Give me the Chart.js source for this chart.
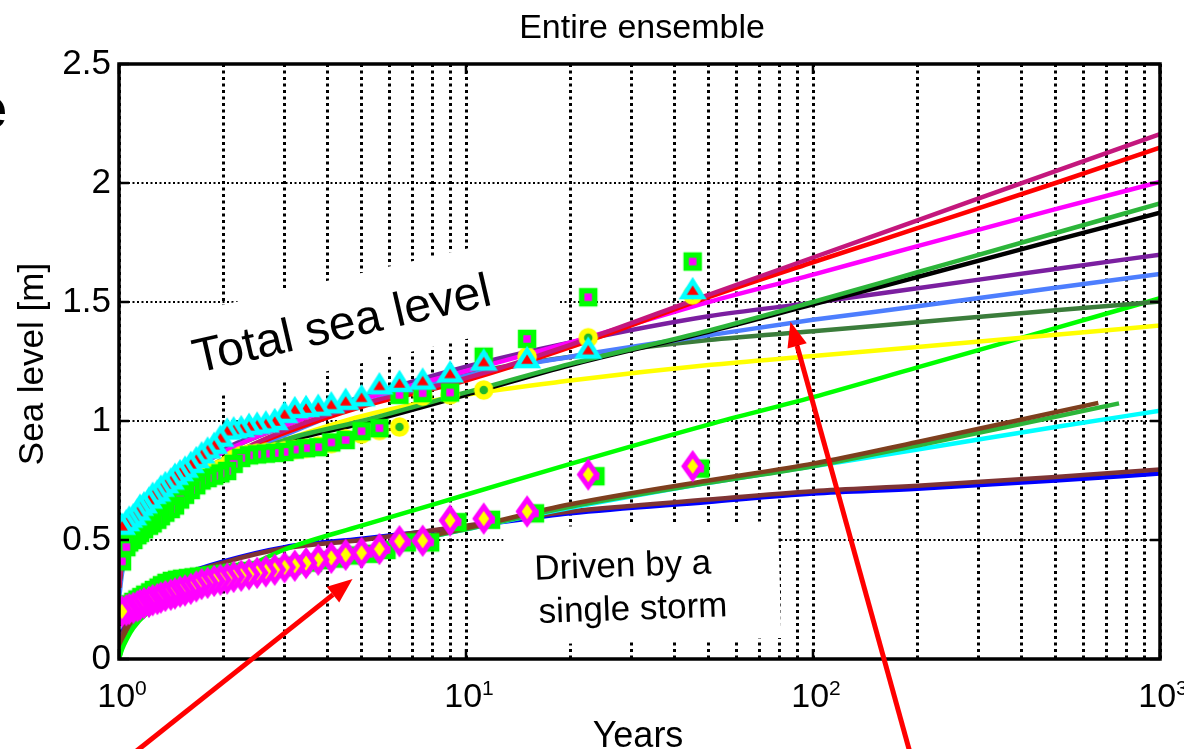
<!DOCTYPE html>
<html>
<head>
<meta charset="utf-8">
<title>Entire ensemble</title>
<script src="https://cdn.jsdelivr.net/npm/chart.js@4.4.1/dist/chart.umd.min.js"></script>
<style>
  html, body { margin: 0; padding: 0; background: #fff; }
  canvas { display: block; }
</style>
</head>
<body>
<canvas id="chart" width="1184" height="749"></canvas>
<script>
const FONT = "'Liberation Sans', Arial, Helvetica, sans-serif";

// Return periods of the ranked annual maxima (years)
const years = [45, 22.5, 15, 11.25, 9, 7.5, 6.43, 5.63, 5, 4.5, 4.09, 3.75, 3.46, 3.21, 3, 2.81, 2.65, 2.5, 2.37, 2.25, 2.14, 2.05, 1.96, 1.88, 1.8, 1.73, 1.67, 1.61, 1.55, 1.5, 1.45, 1.41, 1.36, 1.32, 1.29, 1.25, 1.22, 1.18, 1.15, 1.13, 1.1, 1.07, 1.05, 1.02];
// storm-only squares sit a little to the right of the diamonds
const yearsStorm = [47.3, 23.6, 15.8, 11.8, 9.45, 7.88, 6.75, 5.9, 5.25, 4.72, 4.29, 3.93, 3.62, 3.36, 3.14, 2.94, 2.77, 2.61, 2.47, 2.34, 2.22, 2.12, 2.02, 1.93, 1.85, 1.77, 1.7, 1.64, 1.58, 1.52, 1.47, 1.42, 1.37, 1.33, 1.3, 1.26, 1.23, 1.19, 1.16, 1.13, 1.1, 1.07, 1.05, 1.02];

// Empirical sea levels [m]
const triangles = [1.55, 1.30, 1.26, 1.25, 1.20, 1.17, 1.16, 1.15, 1.10, 1.085, 1.07, 1.06, 1.055, 1.05, 1.03, 1.00, 0.99, 0.985, 0.98, 0.97, 0.965, 0.96, 0.93, 0.90, 0.88, 0.86, 0.84, 0.82, 0.80, 0.785, 0.77, 0.75, 0.735, 0.72, 0.70, 0.69, 0.67, 0.65, 0.64, 0.62, 0.60, 0.59, 0.575, 0.56];
const squares = [1.67, 1.52, 1.345, 1.27, 1.12, 1.117, 1.11, 0.97, 0.957, 0.92, 0.91, 0.89, 0.886, 0.88, 0.87, 0.866, 0.863, 0.86, 0.856, 0.845, 0.82, 0.79, 0.78, 0.77, 0.76, 0.75, 0.73, 0.71, 0.69, 0.67, 0.645, 0.63, 0.615, 0.60, 0.585, 0.57, 0.56, 0.545, 0.53, 0.52, 0.50, 0.49, 0.47, 0.41];
const circles = [1.53, 1.35, 1.27, 1.13, 1.11, 1.105, 0.975, 0.96, 0.945, 0.925, 0.905, 0.895, 0.885, 0.88, 0.875, 0.87, 0.868, 0.865, 0.862, 0.855, 0.84, 0.815, 0.80, 0.79, 0.78, 0.77, 0.75, 0.73, 0.71, 0.69, 0.67, 0.655, 0.64, 0.625, 0.61, 0.595, 0.58, 0.565, 0.555, 0.545, 0.53, 0.52, 0.51, 0.50];
const diamonds = [0.81, 0.775, 0.62, 0.59, 0.582, 0.497, 0.495, 0.462, 0.446, 0.438, 0.425, 0.417, 0.403, 0.392, 0.385, 0.375, 0.368, 0.362, 0.356, 0.35, 0.345, 0.338, 0.333, 0.328, 0.32, 0.315, 0.305, 0.295, 0.288, 0.283, 0.275, 0.27, 0.265, 0.258, 0.252, 0.247, 0.24, 0.235, 0.228, 0.222, 0.215, 0.21, 0.205, 0.20];
const stormSquares = [0.80, 0.768, 0.612, 0.585, 0.575, 0.49, 0.49, 0.458, 0.442, 0.435, 0.422, 0.415, 0.405, 0.398, 0.392, 0.386, 0.381, 0.377, 0.373, 0.37, 0.366, 0.362, 0.358, 0.355, 0.352, 0.349, 0.346, 0.343, 0.34, 0.337, 0.333, 0.328, 0.32, 0.31, 0.30, 0.29, 0.28, 0.27, 0.26, 0.25, 0.24, 0.23, 0.215, 0.20];

// Fitted return level curves
const fitYears = [1, 1.02, 1.05, 1.1, 1.2, 1.5, 2, 3, 5, 10, 20, 50, 100, 200, 500, 1000];
const fitYearsBrown = [1, 1.02, 1.05, 1.1, 1.2, 1.5, 2, 3, 5, 10, 20, 50, 100, 200, 664];
const fitYearsGreen2 = [1, 1.02, 1.05, 1.1, 1.2, 1.5, 2, 3, 5, 10, 20, 50, 100, 200, 762];
const fitVioletRed = [0.30, 0.42, 0.48, 0.54, 0.61, 0.73, 0.84, 0.96, 1.07, 1.18, 1.32, 1.53, 1.687, 1.843, 2.05, 2.205];
const fitRed = [0.30, 0.42, 0.48, 0.54, 0.61, 0.73, 0.84, 0.95, 1.06, 1.17, 1.31, 1.52, 1.667, 1.81, 2.0, 2.149];
const fitMagenta = [0.35, 0.46, 0.52, 0.58, 0.65, 0.76, 0.87, 0.98, 1.09, 1.21, 1.33, 1.50, 1.615, 1.735, 1.89, 2.004];
const fitGreen = [0.30, 0.40, 0.47, 0.53, 0.60, 0.71, 0.81, 0.92, 1.00, 1.12, 1.24, 1.38, 1.50, 1.625, 1.79, 1.914];
const fitBlack = [0.30, 0.40, 0.46, 0.52, 0.59, 0.70, 0.80, 0.91, 0.99, 1.11, 1.235, 1.375, 1.49, 1.605, 1.76, 1.875];
const fitPurple = [0.35, 0.46, 0.52, 0.58, 0.65, 0.77, 0.88, 0.99, 1.10, 1.228, 1.33, 1.44, 1.497, 1.558, 1.639, 1.699];
const fitBlue = [0.25, 0.36, 0.44, 0.52, 0.60, 0.72, 0.83, 0.94, 1.07, 1.19, 1.27, 1.36, 1.425, 1.482, 1.56, 1.618];
const fitDarkGreen = [0.33, 0.44, 0.51, 0.57, 0.64, 0.76, 0.87, 0.98, 1.10, 1.20, 1.27, 1.34, 1.377, 1.415, 1.465, 1.502];
const fitYellow = [0.33, 0.43, 0.49, 0.55, 0.62, 0.73, 0.83, 0.92, 1.02, 1.11, 1.17, 1.235, 1.273, 1.311, 1.362, 1.401];
const fitLime = [0.0, 0.04, 0.08, 0.13, 0.19, 0.27, 0.34, 0.46, 0.56, 0.69, 0.82, 0.985, 1.10, 1.225, 1.39, 1.516];
const fitBrown = [0.0, 0.07, 0.12, 0.17, 0.23, 0.31, 0.36, 0.41, 0.46, 0.55, 0.65, 0.75, 0.821, 0.912, 1.076];
const fitGreen2 = [0.0, 0.05, 0.10, 0.15, 0.21, 0.29, 0.35, 0.40, 0.455, 0.545, 0.64, 0.74, 0.81, 0.897, 1.074];
const fitCyan = [0.0, 0.06, 0.11, 0.16, 0.22, 0.30, 0.355, 0.405, 0.455, 0.545, 0.635, 0.74, 0.81, 0.88, 0.975, 1.043];
const fitMaroon = [0.0, 0.09, 0.15, 0.21, 0.27, 0.345, 0.405, 0.465, 0.50, 0.56, 0.62, 0.67, 0.705, 0.728, 0.765, 0.796];
const fitNavy = [0.0, 0.10, 0.16, 0.22, 0.28, 0.35, 0.41, 0.47, 0.505, 0.555, 0.612, 0.66, 0.695, 0.715, 0.75, 0.779];

// Axis ticks
const yTicks = [0, 0.5, 1, 1.5, 2, 2.5];
const xMajorTicks = [1, 10, 100, 1000];
const xGridTicks = [1, 2, 3, 4, 5, 6, 7, 8, 9, 10, 20, 30, 40, 50, 60, 70, 80, 90, 100, 200, 300, 400, 500, 600, 700, 800, 900, 1000];

const toPoints = (xs, ys) => xs.map((x, i) => ({ x: x, y: ys[i] }));

// Marker glyphs drawn once on small canvases
const makeMarker = (w, h, draw) => {
  const c = document.createElement("canvas");
  c.width = w;
  c.height = h;
  draw(c.getContext("2d"), w / 2, h / 2);
  return c;
};

const triangleMarker = makeMarker(32, 30, (g, cx, cy) => {
  g.beginPath();
  g.moveTo(cx, cy - 9);
  g.lineTo(cx + 10, cy + 7);
  g.lineTo(cx - 10, cy + 7);
  g.closePath();
  g.fillStyle = "#ff0000";
  g.fill();
  g.lineWidth = 4.5;
  g.lineJoin = "miter";
  g.strokeStyle = "#00ffff";
  g.stroke();
});

const squareMarker = makeMarker(24, 24, (g, cx, cy) => {
  g.fillStyle = "#ff00ff";
  g.fillRect(cx - 6.5, cy - 6.5, 13, 13);
  g.lineWidth = 5.5;
  g.strokeStyle = "#00ff00";
  g.strokeRect(cx - 6.5, cy - 6.5, 13, 13);
});

const circleMarker = makeMarker(24, 24, (g, cx, cy) => {
  g.beginPath();
  g.arc(cx, cy, 7, 0, Math.PI * 2);
  g.fillStyle = "#1fb82a";
  g.fill();
  g.lineWidth = 5.5;
  g.strokeStyle = "#ffff00";
  g.stroke();
});

const diamondMarker = makeMarker(28, 36, (g, cx, cy) => {
  g.beginPath();
  g.moveTo(cx, cy - 12);
  g.lineTo(cx + 8.5, cy);
  g.lineTo(cx, cy + 12);
  g.lineTo(cx - 8.5, cy);
  g.closePath();
  g.fillStyle = "#ffff00";
  g.fill();
  g.lineWidth = 5;
  g.strokeStyle = "#ff00ff";
  g.stroke();
});

const markerSet = (xs, ys, marker) => ({
  data: toPoints(xs, ys),
  showLine: false,
  pointStyle: marker,
  pointRadius: 10,
});

const fitLine = (xs, ys, color) => ({
  data: toPoints(xs, ys),
  showLine: true,
  borderColor: color,
  borderWidth: 4.5,
  pointRadius: 0,
  fill: false,
  cubicInterpolationMode: "monotone",
});

// Datasets listed first are drawn on top
const datasets = [
  markerSet(years, diamonds, diamondMarker),
  markerSet(years, triangles, triangleMarker),
  markerSet(years, squares, squareMarker),
  markerSet(years, circles, circleMarker),
  markerSet(yearsStorm, stormSquares, squareMarker),
  fitLine(fitYears, fitVioletRed, "#c4177d"),
  fitLine(fitYears, fitRed, "#ff0000"),
  fitLine(fitYears, fitMagenta, "#ff00ff"),
  fitLine(fitYears, fitGreen, "#2cb53a"),
  fitLine(fitYears, fitBlack, "#000000"),
  fitLine(fitYears, fitPurple, "#7b1fa0"),
  fitLine(fitYears, fitBlue, "#4d7efe"),
  fitLine(fitYears, fitDarkGreen, "#3b7d3b"),
  fitLine(fitYears, fitYellow, "#ffff00"),
  fitLine(fitYears, fitLime, "#00ff00"),
  fitLine(fitYearsBrown, fitBrown, "#7e3f1e"),
  fitLine(fitYearsGreen2, fitGreen2, "#2cb53a"),
  fitLine(fitYears, fitCyan, "#00ffff"),
  fitLine(fitYears, fitMaroon, "#7f3434"),
  fitLine(fitYears, fitNavy, "#0000ff"),
];

// White label boxes sit over the grid but under the data
const notesPlugin = {
  id: "notes",
  beforeDatasetsDraw(chart) {
    const { ctx, scales } = chart;
    const px = (x) => scales.x.getPixelForValue(x);
    const py = (y) => scales.y.getPixelForValue(y);

    const box = (x, y, w, h, deg) => {
      ctx.save();
      ctx.translate(px(x), py(y));
      ctx.rotate((deg * Math.PI) / 180);
      ctx.fillStyle = "#ffffff";
      ctx.fillRect(-w / 2, -h / 2, w, h);
      ctx.restore();
    };
    const label = (text, x, y, size, deg) => {
      ctx.save();
      ctx.translate(px(x), py(y));
      ctx.rotate((deg * Math.PI) / 180);
      ctx.font = size + "px " + FONT;
      ctx.fillStyle = "#000";
      ctx.textAlign = "center";
      ctx.textBaseline = "middle";
      ctx.fillText(text, 0, 0);
      ctx.restore();
    };

    box(5.01, 1.433, 390, 88, -13);
    label("Total sea level", 4.4, 1.4, 48, -13);

    box(32.2, 0.319, 275, 117, -1.5);
    label("Driven by a", 28.3, 0.387, 35, -2);
    label("single storm", 30.3, 0.206, 35, -2);
  },
};

const drawArrow = (ctx, x1, y1, x2, y2) => {
  const ang = Math.atan2(y2 - y1, x2 - x1);
  const headLen = 25;
  const headHalf = 10;
  const bx = x2 - headLen * Math.cos(ang);
  const by = y2 - headLen * Math.sin(ang);
  ctx.save();
  ctx.strokeStyle = "#ff0000";
  ctx.fillStyle = "#ff0000";
  ctx.lineWidth = 5;
  ctx.beginPath();
  ctx.moveTo(x1, y1);
  ctx.lineTo(bx, by);
  ctx.stroke();
  ctx.beginPath();
  ctx.moveTo(x2, y2);
  ctx.lineTo(bx + headHalf * Math.sin(ang), by - headHalf * Math.cos(ang));
  ctx.lineTo(bx - headHalf * Math.sin(ang), by + headHalf * Math.cos(ang));
  ctx.closePath();
  ctx.fill();
  ctx.restore();
};

// Frame, inward ticks, MATLAB style labels and the two arrows
const framePlugin = {
  id: "frame",
  afterDraw(chart) {
    const { ctx, chartArea, scales } = chart;
    const { left, right, top, bottom } = chartArea;
    const px = (x) => scales.x.getPixelForValue(x);
    const py = (y) => scales.y.getPixelForValue(y);

    ctx.save();
    ctx.strokeStyle = "#000";
    ctx.lineWidth = 2.5;
    ctx.beginPath();
    yTicks.forEach((v) => {
      const y = py(v);
      ctx.moveTo(left, y);
      ctx.lineTo(left + 10, y);
      ctx.moveTo(right, y);
      ctx.lineTo(right - 10, y);
    });
    xMajorTicks.forEach((v) => {
      const x = px(v);
      ctx.moveTo(x, bottom);
      ctx.lineTo(x, bottom - 10);
      ctx.moveTo(x, top);
      ctx.lineTo(x, top + 10);
    });
    ctx.stroke();

    ctx.lineWidth = 3.5;
    ctx.strokeRect(left, top, right - left, bottom - top);

    // x tick labels as 10 with a raised exponent
    ctx.fillStyle = "#000";
    ctx.textBaseline = "alphabetic";
    ctx.textAlign = "left";
    xMajorTicks.forEach((v, i) => {
      const exp = String(i);
      ctx.font = "34px " + FONT;
      const wBase = ctx.measureText("10").width;
      ctx.font = "21px " + FONT;
      const wExp = ctx.measureText(exp).width;
      const x0 = px(v) - (wBase + wExp) / 2 + 3;
      ctx.font = "34px " + FONT;
      ctx.fillText("10", x0, 707);
      ctx.font = "21px " + FONT;
      ctx.fillText(exp, x0 + wBase, 695);
    });

    ctx.textAlign = "center";
    ctx.font = "36px " + FONT;
    ctx.fillText("Years", 638, 747);

    ctx.font = "34px " + FONT;
    ctx.fillText("Entire ensemble", 642, 38);

    ctx.save();
    ctx.translate(43, 364);
    ctx.rotate(-Math.PI / 2);
    ctx.font = "35px " + FONT;
    ctx.fillText("Sea level [m]", 0, 0);
    ctx.restore();

    // panel letter, mostly cut off by the page edge
    ctx.textAlign = "right";
    ctx.font = "bold 58px " + FONT;
    ctx.fillText("e", 7, 128);
    ctx.restore();

    drawArrow(ctx, px(0.948), py(-0.472), px(4.71), py(0.336));
    drawArrow(ctx, px(197), py(-0.472), px(86.1), py(1.417));
  },
};

Chart.defaults.font.family = FONT;

new Chart(document.getElementById("chart"), {
  type: "scatter",
  data: { datasets: datasets },
  options: {
    responsive: false,
    animation: false,
    events: [],
    layout: { padding: { top: 64, right: 24, bottom: 0, left: 0 } },
    plugins: {
      legend: { display: false },
      tooltip: { enabled: false },
    },
    scales: {
      x: {
        type: "logarithmic",
        min: 1,
        max: 1000,
        afterBuildTicks: (scale) => {
          scale.ticks = xGridTicks.map((v) => ({ value: v, major: xMajorTicks.includes(v) }));
        },
        afterFit: (scale) => {
          scale.height = 90;
        },
        ticks: { display: false },
        grid: { color: "#000", lineWidth: 3, drawTicks: false },
        border: { display: false, dash: [3, 3.5] },
      },
      y: {
        min: 0,
        max: 2.5,
        afterBuildTicks: (scale) => {
          scale.ticks = yTicks.map((v) => ({ value: v }));
        },
        afterFit: (scale) => {
          scale.width = 119;
        },
        ticks: {
          color: "#000",
          font: { size: 35 },
          padding: 8,
          callback: (v) => String(v),
        },
        grid: { color: "#000", lineWidth: 2, drawTicks: false },
        border: { display: false, dash: [2, 2.5] },
      },
    },
  },
  plugins: [notesPlugin, framePlugin],
});
</script>
</body>
</html>
